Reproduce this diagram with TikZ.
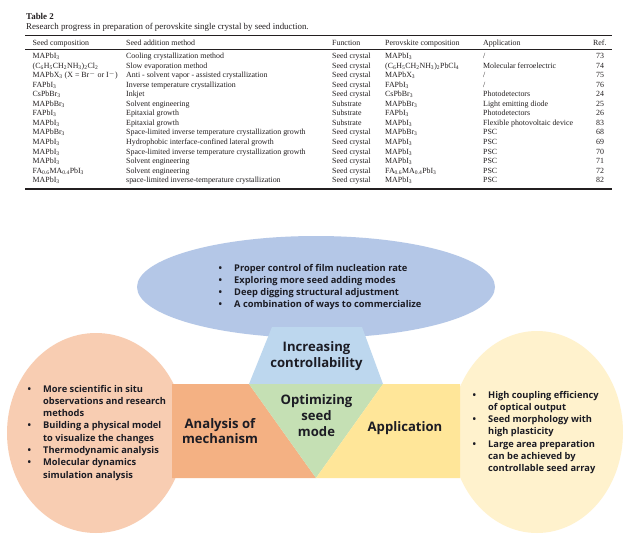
\documentclass[tikz,border=0pt]{standalone}
\usepackage{fontspec}
\setmainfont{Open Sans}
\newfontfamily\tabfont{Liberation Serif}
\definecolor{ellblue}{RGB}{180,199,231}
\definecolor{trapblue}{RGB}{189,215,238}
\definecolor{trigreen}{RGB}{197,224,180}
\definecolor{recorange}{RGB}{244,177,131}
\definecolor{recyellow}{RGB}{255,230,153}
\definecolor{circorange}{RGB}{248,205,178}
\definecolor{circyellow}{RGB}{255,242,205}
\definecolor{txt}{RGB}{28,28,36}
\definecolor{tabink}{RGB}{35,31,32}
\tikzset{
  tabtxt/.style={anchor=base west, inner sep=0, text=tabink, font=\tabfont\fontsize{7.9}{9}\selectfont},
  tabhead/.style={anchor=base west, inner sep=0, text=tabink, font=\tabfont\fontsize{8.9}{10}\selectfont},
  title/.style={align=center, inner sep=0, text=txt, font=\bfseries\fontsize{13.1}{15.5}\selectfont},
  blist/.style={anchor=base west, inner sep=0, text=txt, font=\bfseries\fontsize{9.3}{12.3}\selectfont},
}
\newcommand\bl{\makebox[15.5pt][l]{•}}
\newcommand\cl{\hspace*{15.5pt}}
\newcommand\sbs[1]{\textsubscript{#1}}
\newcommand\trow[7]{%
  \pgfmathsetmacro\ry{59+9.5*(#1-1)}%
  \node[tabtxt] (r#1a) at (32.5,\ry) {#2};
  \node[tabtxt] (r#1b) at (126,\ry) {#3};
  \node[tabtxt] (r#1c) at (332,\ry) {#4};
  \node[tabtxt] (r#1d) at (385,\ry) {#5};
  \node[tabtxt] (r#1e) at (483,\ry) {#6};
  \node[tabtxt] (r#1f) at (596,\ry) {#7};
}
\begin{document}
\begin{tikzpicture}[x=1pt,y=-1pt]
\useasboundingbox (0,0) rectangle (630,543);
\fill[white] (0,0) rectangle (630,543);
% ---------------- table ----------------
\node[tabhead, font=\tabfont\bfseries\fontsize{8.9}{10}\selectfont] (tabtitle) at (26,19.5) {Table 2};
\node[tabhead] (tabcap) at (26,29.8) {Research progress in preparation of perovskite single crystal by seed induction.};
\coordinate (ta) at (25,35);   \coordinate (tb) at (612,35);
\coordinate (tc) at (25,49.5); \coordinate (td) at (612,49.5);
\coordinate (te) at (25,189);  \coordinate (tf) at (612,189);
\draw[tabink, line width=0.9pt] (ta) -- (tb);
\draw[tabink, line width=0.6pt] (tc) -- (td);
\draw[tabink, line width=1.2pt] (te) -- (tf);
\node[tabtxt] (h1) at (32.5,45.3) {Seed composition};
\node[tabtxt] (h2) at (126,45.3) {Seed addition method};
\node[tabtxt] (h3) at (332,45.3) {Function};
\node[tabtxt] (h4) at (385,45.3) {Perovskite composition};
\node[tabtxt] (h5) at (483,45.3) {Application};
\node[tabtxt] (h6) at (593,45.3) {Ref.};
\trow{1}{MAPbI\sbs{3}}{Cooling crystallization method}{Seed crystal}{MAPbI\sbs{3}}{/}{73}
\trow{2}{(C\sbs{6}H\sbs{5}CH\sbs{2}NH\sbs{3})\sbs{2}Cl\sbs{2}}{Slow evaporation method}{Seed crystal}{(C\sbs{6}H\sbs{5}CH\sbs{2}NH\sbs{3})\sbs{2}PbCl\sbs{4}}{Molecular ferroelectric}{74}
\trow{3}{MAPbX\sbs{3} (X = Br\textsuperscript{$-$} or I\textsuperscript{$-$})}{Anti - solvent vapor - assisted crystallization}{Seed crystal}{MAPbX\sbs{3}}{/}{75}
\trow{4}{FAPbI\sbs{3}}{Inverse temperature crystallization}{Seed crystal}{FAPbI\sbs{3}}{/}{76}
\trow{5}{CsPbBr\sbs{3}}{Inkjet}{Seed crystal}{CsPbBr\sbs{3}}{Photodetectors}{24}
\trow{6}{MAPbBr\sbs{3}}{Solvent engineering}{Substrate}{MAPbBr\sbs{3}}{Light emitting diode}{25}
\trow{7}{FAPbI\sbs{3}}{Epitaxial growth}{Substrate}{FAPbI\sbs{3}}{Photodetectors}{26}
\trow{8}{MAPbI\sbs{3}}{Epitaxial growth}{Substrate}{MAPbI\sbs{3}}{Flexible photovoltaic device}{83}
\trow{9}{MAPbBr\sbs{3}}{Space-limited inverse temperature crystallization growth}{Seed crystal}{MAPbBr\sbs{3}}{PSC}{68}
\trow{10}{MAPbI\sbs{3}}{Hydrophobic interface-confined lateral growth}{Seed crystal}{MAPbI\sbs{3}}{PSC}{69}
\trow{11}{MAPbI\sbs{3}}{Space-limited inverse temperature crystallization growth}{Seed crystal}{MAPbI\sbs{3}}{PSC}{70}
\trow{12}{MAPbI\sbs{3}}{Solvent engineering}{Seed crystal}{MAPbI\sbs{3}}{PSC}{71}
\trow{13}{FA\sbs{0.6}MA\sbs{0.4}PbI\sbs{3}}{Solvent engineering}{Seed crystal}{FA\sbs{0.6}MA\sbs{0.4}PbI\sbs{3}}{PSC}{72}
\trow{14}{MAPbI\sbs{3}}{space-limited inverse-temperature crystallization}{Seed crystal}{MAPbI\sbs{3}}{PSC}{82}
% ---------------- diagram ----------------
\fill[circorange] (96,433) ellipse [x radius=89pt, y radius=100pt];
\fill[circyellow] (537,432) ellipse [x radius=86pt, y radius=101pt];
\fill[ellblue] (316,287) ellipse [x radius=179pt, y radius=51pt];
\fill[trapblue] (272,327) -- (362,327) -- (383,384) -- (249,384) -- cycle;
\fill[recorange] (172,384) -- (249,384) -- (316,478) -- (172,478) -- cycle;
\fill[trigreen] (249,384) -- (383,384) -- (316,478) -- cycle;
\fill[recyellow] (383,384) -- (460,384) -- (460,478) -- (316,478) -- cycle;
% titles
\node[title] (tincr) at (316.5,356) {Increasing\\controllability};
\node[title, font=\bfseries\fontsize{13.1}{16}\selectfont] (topt) at (316.5,416) {Optimizing\\seed\\mode};
\node[title] (tana) at (220,431) {Analysis of\\mechanism};
\node[title] (tapp) at (405,428) {Application};
% bullet lists
\node[blist] (ltop) at (218.5,271) {\begin{tabular}[t]{@{}l@{}}
\bl Proper control of film nucleation rate\\
\bl Exploring more seed adding modes\\
\bl Deep digging structural adjustment\\
\bl A combination of ways to commercialize
\end{tabular}};
\node[blist] (lleft) at (27.5,392) {\begin{tabular}[t]{@{}l@{}}
\bl More scientific in situ\\
\cl observations and research\\
\cl methods\\
\bl Building a physical model\\
\cl to visualize the changes\\
\bl Thermodynamic analysis\\
\bl Molecular dynamics\\
\cl simulation analysis
\end{tabular}};
\node[blist] (lright) at (472.5,398) {\begin{tabular}[t]{@{}l@{}}
\bl High coupling efficiency\\
\cl of optical output\\
\bl Seed morphology with\\
\cl high plasticity\\
\bl Large area preparation\\
\cl can be achieved by\\
\cl controllable seed array
\end{tabular}};
\end{tikzpicture}
\end{document}
